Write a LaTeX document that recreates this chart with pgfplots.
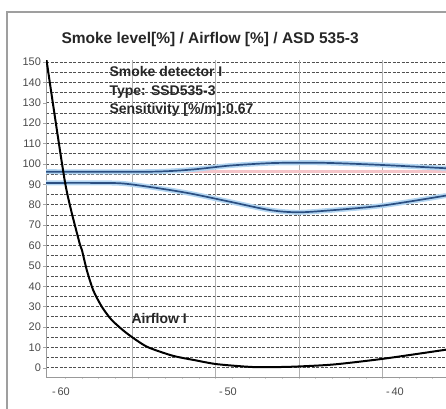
\documentclass[border=0pt]{standalone}
\usepackage{pgfplots}
\pgfplotsset{compat=1.18}
\usepackage{fontspec}
\setmainfont{Liberation Sans}

\definecolor{lineblue}{HTML}{2B4F82}
\definecolor{haloblue}{HTML}{B4D6F2}
\definecolor{pinkline}{HTML}{F4C4C8}
\definecolor{gridgray}{HTML}{505050}
\definecolor{vgrid}{HTML}{B0B0B0}
\definecolor{labgray}{HTML}{4A4A4A}

\begin{document}
\begin{tikzpicture}[x=1pt,y=1pt]
\useasboundingbox (0,0) rectangle (446,408);
\begin{scope}
\clip (0,0) rectangle (446,408);
\draw[gray!75, line width=1.3pt] (7,-5) -- (7,396) -- (460,396);
\begin{axis}[
    at={(46pt,31pt)}, anchor=south west,
    scale only axis, width=400pt, height=317pt,
    xmin=-60.15, xmax=-36.2, ymin=-4.5, ymax=151,
    axis x line*=bottom, axis y line*=left,
    axis line style={gray!80, line width=1pt, -},
    clip=true,
    xtick={-60,-50,-40},
    xticklabels={-\,60,-\,50,-\,40},
    minor xtick={-59,...,-37},
    ytick={0,10,...,150},
    minor ytick={5,15,...,145},
    tick align=outside,
    major tick length=3pt, minor tick length=2pt,
    major x tick style={draw=none},
    minor x tick style={draw=gray!40, line width=0.6pt},
    minor y tick style={draw=none},
    major y tick style={draw=gray!70, line width=0.6pt},
    ymajorgrids, yminorgrids,
    major grid style={gridgray, line width=0.75pt, dash pattern=on 3pt off 1.5pt},
    minor grid style={gridgray, line width=0.75pt, dash pattern=on 3pt off 1.5pt},
    extra x ticks={-55,-50,-45,-40},
    extra x tick labels={},
    extra x tick style={grid=major, major grid style={vgrid, line width=0.8pt, solid}, major tick length=0pt},
    tick label style={font=\fontsize{11}{12}\selectfont, text=labgray},
    /pgf/number format/assume math mode=true,
    xticklabel style={anchor=north west, xshift=0pt, yshift=-4pt},
    yticklabel style={anchor=east, xshift=1.5pt},
]
% threshold line
\addplot[pinkline, line width=3pt] coordinates {(-60.15,96.4) (-36.2,96.4)};
% halos
\addplot[haloblue, line width=5pt, smooth, tension=0.5] coordinates {
    (-60.15,96.2) (-54,96.2) (-51.5,97.2) (-49.15,99.2) (-46.75,100.4)
    (-45,100.6) (-43.2,100.5) (-40,99.5) (-36.2,97.9)};
\addplot[haloblue, line width=5pt, smooth, tension=0.5] coordinates {
    (-60.15,90.7) (-57,90.7) (-55.5,90.4) (-53.5,88.2) (-51.5,85.5)
    (-49.15,81.5) (-46.75,77.4) (-45.1,76.3) (-43.2,77.2) (-40,79.6) (-36.2,84.5)};
% blue lines
\addplot[lineblue, line width=1.7pt, smooth, tension=0.5] coordinates {
    (-60.15,96.2) (-54,96.2) (-51.5,97.2) (-49.15,99.2) (-46.75,100.4)
    (-45,100.6) (-43.2,100.5) (-40,99.5) (-36.2,97.9)};
\addplot[lineblue, line width=1.7pt, smooth, tension=0.5] coordinates {
    (-60.15,90.7) (-57,90.7) (-55.5,90.4) (-53.5,88.2) (-51.5,85.5)
    (-49.15,81.5) (-46.75,77.4) (-45.1,76.3) (-43.2,77.2) (-40,79.6) (-36.2,84.5)};
% airflow
\addplot[black, line width=2pt, smooth, tension=0.4] coordinates {
    (-60.12,151) (-59.0,90.5) (-58.19,62.7) (-58.0,57.8) (-57.71,48)
    (-57.32,38) (-56.81,30) (-56.22,23.5) (-55.32,17) (-54.12,10.4)
    (-52.55,5.9) (-51.14,3.6) (-49.92,1.8) (-47.77,0.4) (-45.56,0.5)
    (-42.99,1.6) (-40,4.4) (-36.2,8.9)};
\end{axis}
\node[anchor=base west, font=\bfseries\fontsize{15.5}{17}\selectfont, text=black!85] at (58,364) {Smoke level[\%] / Airflow [\%] / ASD 535-3};
\node[anchor=base west, font=\bfseries\fontsize{14}{16}\selectfont, text=black!85] at (106,332) {Smoke detector I};
\node[anchor=base west, font=\bfseries\fontsize{14}{16}\selectfont, text=black!85] at (106,313) {Type: SSD535-3};
\node[anchor=base west, font=\bfseries\fontsize{14}{16}\selectfont, text=black!85] at (106,294.5) {Sensitivity [\%/m]:0.67};
\node[anchor=base west, font=\bfseries\fontsize{14}{16}\selectfont, text=black!85] at (128,84.5) {Airflow I};
\end{scope}
\end{tikzpicture}
\end{document}
